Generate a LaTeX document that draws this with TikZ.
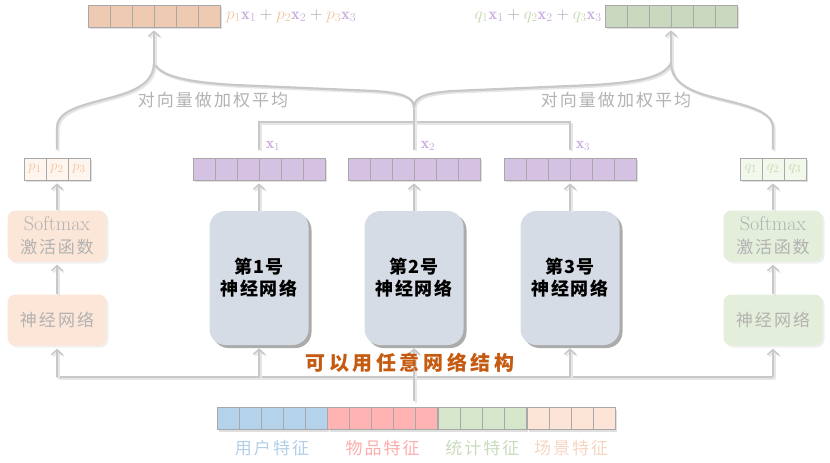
\documentclass[tikz,border=0pt]{standalone}
\usepackage{amsmath,amssymb}
\usepackage{fontspec}
\newfontfamily\cjk{Noto Sans CJK SC}
\usetikzlibrary{arrows.meta,shadows,positioning}

\definecolor{lineGray}{RGB}{200,200,200}
\definecolor{lineShade}{RGB}{230,230,230}
\definecolor{cellGray}{RGB}{168,168,168}
\definecolor{sumOrange}{RGB}{238,202,178}
\definecolor{sumGreen}{RGB}{201,216,190}
\definecolor{xPurple}{RGB}{213,193,226}
\definecolor{pFill}{RGB}{253,245,238}
\definecolor{qFill}{RGB}{243,248,237}
\definecolor{pTxt}{RGB}{242,196,160}
\definecolor{qTxt}{RGB}{200,214,176}
\definecolor{xTxt}{RGB}{200,172,222}
\definecolor{plusTxt}{RGB}{165,165,165}
\definecolor{smOrange}{RGB}{252,230,216}
\definecolor{smGreen}{RGB}{228,239,219}
\definecolor{sideTxt}{RGB}{178,178,178}
\definecolor{netFill}{RGB}{214,220,229}
\definecolor{anyTxt}{RGB}{197,90,17}
\definecolor{usrBlue}{RGB}{180,211,235}
\definecolor{itmPink}{RGB}{255,179,179}
\definecolor{staGreen}{RGB}{213,230,202}
\definecolor{scnPeach}{RGB}{252,228,214}
\definecolor{usrTxt}{RGB}{178,206,232}
\definecolor{itmTxt}{RGB}{255,172,172}
\definecolor{staTxt}{RGB}{200,219,188}
\definecolor{scnTxt}{RGB}{246,214,194}

\begin{document}
\begin{tikzpicture}[x=1pt,y=-1pt,
  conn/.style={line width=2.2pt,draw=lineGray,
    preaction={draw=lineShade,line width=2.2pt,transform canvas={shift={(1.6pt,-1.6pt)}}}},
  up/.style={conn,-{Straight Barb[length=5pt,width=11pt,line width=1.6pt]},shorten >=3pt},
  vec/.style={draw=cellGray,line width=0.7pt,inner sep=0pt,
    minimum height=22pt,minimum width=#1*22pt,
    drop shadow={shadow xshift=2pt,shadow yshift=-2pt,opacity=0.25},
    path picture={\foreach \k in {2,...,#1}{
      \draw[cellGray,line width=0.7pt]
        ([xshift={(\k-1)*22pt}]path picture bounding box.south west) --
        ([xshift={(\k-1)*22pt}]path picture bounding box.north west);}}},
  sidebox/.style={rounded corners=8pt,minimum width=99pt,minimum height=51pt,
    inner sep=0pt,align=center,text=sideTxt,font=\fontsize{20}{23}\selectfont,
    drop shadow={shadow xshift=2pt,shadow yshift=-2pt,opacity=0.12}},
  netbox/.style={rounded corners=16pt,minimum width=99pt,minimum height=134pt,
    inner sep=0pt,align=center,fill=netFill,
    font=\cjk\bfseries\fontsize{18}{22}\selectfont\addfontfeatures{LetterSpace=8},
    drop shadow={shadow xshift=3pt,shadow yshift=-3pt,fill=black!55,opacity=0.6}},
  cjktext/.style={font=\cjk\fontsize{17}{20}\selectfont\addfontfeatures{LetterSpace=12}},
  lbl/.style={cjktext,inner sep=0pt}]
\useasboundingbox (0,0) rectangle (830,463);

% outputs on top
\node[vec=6,fill=sumOrange] (sumL) at (154,16) {};
\node[vec=6,fill=sumGreen] (sumR) at (671,16) {};
\node[anchor=west,inner sep=0pt,font=\fontsize{16.5}{18}\selectfont] (sumLtxt) at (226,16)
  {$\color{pTxt}p_1\color{xTxt}\mathbf{x}_1\color{plusTxt}+\color{pTxt}p_2\color{xTxt}\mathbf{x}_2
    \color{plusTxt}+\color{pTxt}p_3\color{xTxt}\mathbf{x}_3$};
\node[anchor=east,inner sep=0pt,font=\fontsize{16.5}{18}\selectfont] (sumRtxt) at (602,16)
  {$\color{qTxt}q_1\color{xTxt}\mathbf{x}_1\color{plusTxt}+\color{qTxt}q_2\color{xTxt}\mathbf{x}_2
    \color{plusTxt}+\color{qTxt}q_3\color{xTxt}\mathbf{x}_3$};

% weights and expert vectors
\node[vec=3,fill=pFill] (pv) at (57,169) {};
\node[vec=3,fill=qFill] (qv) at (773,169) {};
\foreach \i/\dx in {1/-22,2/0,3/22}{
  \node[text=pTxt,font=\fontsize{15}{16}\selectfont] (p\i) at (57+\dx,169) {$p_\i$};
  \node[text=qTxt,font=\fontsize{15}{16}\selectfont] (q\i) at (773+\dx,169) {$q_\i$};
}
\node[vec=6,fill=xPurple] (xa) at (259,169) {};
\node[vec=6,fill=xPurple] (xb) at (414,169) {};
\node[vec=6,fill=xPurple] (xc) at (570,169) {};
\node[text=xTxt,font=\fontsize{16}{17}\selectfont] (xaLbl) at (273,146) {$\mathbf{x}_1$};
\node[text=xTxt,font=\fontsize{16}{17}\selectfont] (xbLbl) at (428,146) {$\mathbf{x}_2$};
\node[text=xTxt,font=\fontsize{16}{17}\selectfont] (xcLbl) at (583,146) {$\mathbf{x}_3$};

% networks
\node[sidebox,fill=smOrange] (smL) at (57,236)
  {Softmax\\{\cjk\fontsize{17}{20}\selectfont\addfontfeatures{LetterSpace=10}激活函数}};
\node[sidebox,fill=smGreen] (smR) at (773,236)
  {Softmax\\{\cjk\fontsize{17}{20}\selectfont\addfontfeatures{LetterSpace=10}激活函数}};
\node[sidebox,fill=smOrange,cjktext] (nnL) at (57,320) {神经网络};
\node[sidebox,fill=smGreen,cjktext] (nnR) at (773,320) {神经网络};
\node[netbox] (neta) at (259,278) {第1号\\神经网络};
\node[netbox] (netb) at (414,278) {第2号\\神经网络};
\node[netbox] (netc) at (570,278) {第3号\\神经网络};

% input features
\node[vec=5,fill=usrBlue] (usr) at (272,418.5) {};
\node[vec=5,fill=itmPink,right=0pt of usr] (itm) {};
\node[vec=4,fill=staGreen,right=0pt of itm] (sta) {};
\node[vec=4,fill=scnPeach,right=0pt of sta] (scn) {};
\node[lbl,text=usrTxt,below=10pt of usr] (usrLbl) {用户特征};
\node[lbl,text=itmTxt,below=10pt of itm] (itmLbl) {物品特征};
\node[lbl,text=staTxt,below=10pt of sta] (staLbl) {统计特征};
\node[lbl,text=scnTxt,below=10pt of scn] (scnLbl) {场景特征};

% connectors below
\coordinate (bus) at (0,377);
\path (netb.south |- usr.north) ++(0,-6) coordinate (feed);
\draw[conn] (nnL.south |- bus) -- (nnR.south |- bus);
\foreach \n in {nnL,neta,netc,nnR}
  \draw[up] (\n.south |- bus) -- (\n.south);
\draw[up] (feed) -- (netb.south);
\draw[up] (nnL) -- (smL);
\draw[up] (nnR) -- (smR);
\draw[up] (smL) -- (pv);
\draw[up] (smR) -- (qv);
\draw[up] (neta) -- (xa);
\draw[up] (netb) -- (xb);
\draw[up] (netc) -- (xc);

\node[font=\cjk\bfseries\fontsize{20}{24}\selectfont\addfontfeatures{LetterSpace=18},text=anyTxt]
  (anyNet) at (410,363) {可以用任意网络结构};

% connectors above
\coordinate (bar) at (0,122);
\coordinate (jl) at (154,63);
\coordinate (jm) at (414,108);
\coordinate (jr) at (671,63);
\path (xa.north) ++(0,-8) coordinate (xaTop);
\path (xb.north) ++(0,-8) coordinate (xbTop);
\path (xc.north) ++(0,-8) coordinate (xcTop);
\path (pv.north) ++(0,-8) coordinate (pvTop);
\path (qv.north) ++(0,-8) coordinate (qvTop);
\draw[conn] (xaTop) |- (xc.north |- bar) -- (xcTop);
\draw[conn] (xbTop) -- (jm);
\draw[conn] (pvTop) -- (57,128) .. controls (57,108) and (90,104) .. (120,95)
  .. controls (143,88) and (154,78) .. (jl);
\draw[conn] (jl) .. controls (160,76) and (185,82) .. (235,85) -- (375,91)
  .. controls (405,93) and (414,98) .. (jm);
\draw[conn] (jm) .. controls (414,98) and (423,93) .. (453,91) -- (593,85)
  .. controls (643,82) and (665,76) .. (jr);
\draw[conn] (jr) .. controls (671,78) and (682,88) .. (705,95)
  .. controls (736,104) and (773,108) .. (773,128) -- (qvTop);
\draw[up] (jl) -- (sumL);
\draw[up] (jr) -- (sumR);
\node[cjktext,text=sideTxt] (avgL) at (213,100) {对向量做加权平均};
\node[cjktext,text=sideTxt] (avgR) at (616,100) {对向量做加权平均};
\end{tikzpicture}
\end{document}
